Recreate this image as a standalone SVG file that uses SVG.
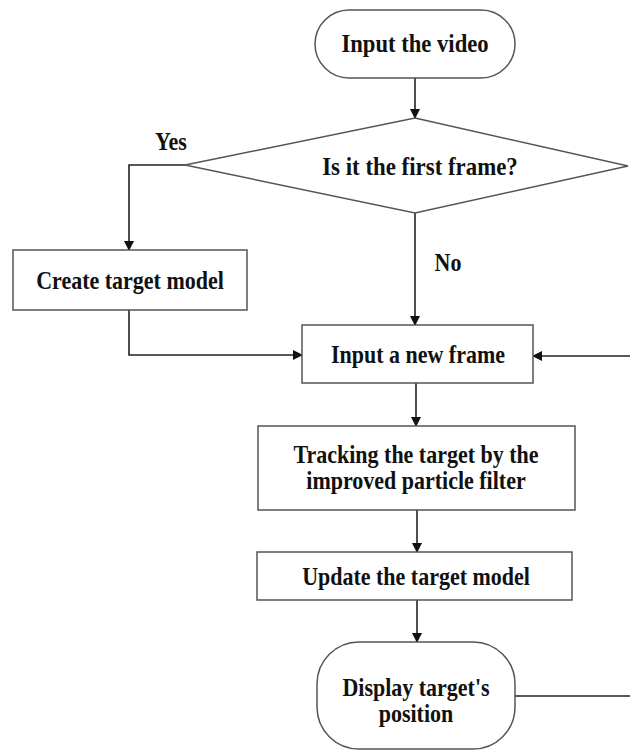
<svg xmlns="http://www.w3.org/2000/svg" width="630" height="751" viewBox="0 0 630 751">
<defs>
<marker id="ah" markerWidth="10" markerHeight="10" refX="9" refY="5" orient="auto" markerUnits="userSpaceOnUse">
<path d="M0,0 L10,5 L0,10 Z" fill="#111"/>
</marker>
<style>
.shape{fill:#fff;stroke:#555;stroke-width:1.5}
.t{font-family:"Liberation Serif","Times New Roman",serif;font-weight:bold;font-size:22px;fill:#111;text-anchor:middle}
.c{fill:none;stroke:#222;stroke-width:1.6}
</style>
</defs>
<rect width="630" height="751" fill="#fff"/>
<g id="connectors">
<line class="c" x1="415" y1="78" x2="415" y2="118" marker-end="url(#ah)"/>
<polyline class="c" points="185,165 129,165 129,250" marker-end="url(#ah)"/>
<line class="c" x1="415" y1="213" x2="415" y2="325" marker-end="url(#ah)"/>
<polyline class="c" points="129,310 129,355 302,355" marker-end="url(#ah)"/>
<line class="c" x1="630" y1="356" x2="533" y2="356" marker-end="url(#ah)"/>
<line class="c" x1="416" y1="383" x2="416" y2="426" marker-end="url(#ah)"/>
<line class="c" x1="417" y1="510" x2="417" y2="552" marker-end="url(#ah)"/>
<line class="c" x1="417" y1="600" x2="417" y2="642" marker-end="url(#ah)"/>
<line class="c" x1="515" y1="696" x2="630" y2="696"/>
<text class="t" transform="translate(171,150) scale(1,1.15)">Yes</text>
<text class="t" transform="translate(448,271) scale(1,1.15)">No</text>
</g>
<g id="n1">
<rect class="shape" x="315" y="10" width="200" height="68" rx="34" ry="34"/>
<text class="t" transform="translate(415,52) scale(1.03,1.15)">Input the video</text>
</g>
<g id="n2">
<polygon class="shape" points="415,118 628,166 415,213 185,165"/>
<text class="t" transform="translate(420,175) scale(1.04,1.15)">Is it the first frame?</text>
</g>
<g id="n3">
<rect class="shape" x="13" y="250" width="234" height="60"/>
<text class="t" transform="translate(130,289) scale(1,1.15)">Create target model</text>
</g>
<g id="n4">
<rect class="shape" x="302" y="325" width="231" height="58"/>
<text class="t" transform="translate(418,363) scale(1,1.15)">Input a new frame</text>
</g>
<g id="n5">
<rect class="shape" x="258" y="426" width="317" height="84"/>
<text class="t" transform="translate(416,463) scale(1,1.15)">Tracking the target by the</text>
<text class="t" transform="translate(416,489) scale(1,1.15)">improved particle filter</text>
</g>
<g id="n6">
<rect class="shape" x="257" y="552" width="315" height="48"/>
<text class="t" transform="translate(416,585) scale(1,1.15)">Update the target model</text>
</g>
<g id="n7">
<rect class="shape" x="317" y="642" width="198" height="107" rx="42" ry="42"/>
<text class="t" transform="translate(416,696) scale(1,1.15)">Display target's</text>
<text class="t" transform="translate(416,722) scale(1,1.15)">position</text>
</g>
</svg>
